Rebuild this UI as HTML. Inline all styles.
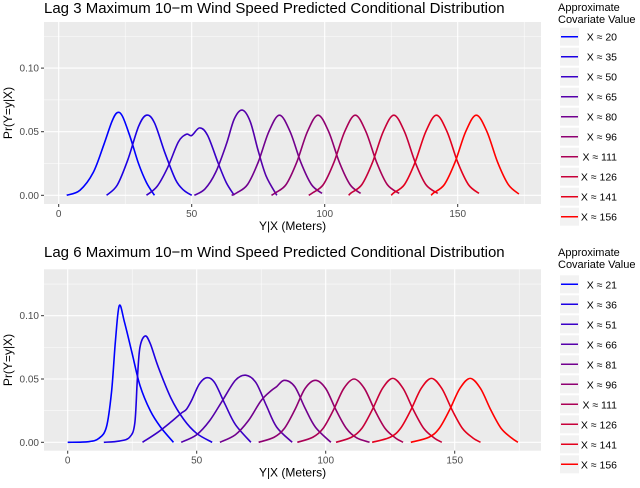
<!DOCTYPE html>
<html><head><meta charset="utf-8">
<style>
body{margin:0;background:#fff;width:640px;height:483px;overflow:hidden;font-family:"Liberation Sans",sans-serif;}
svg text{font-family:"Liberation Sans",sans-serif;}
</style></head>
<body>
<svg id="chart" width="640" height="483" xmlns="http://www.w3.org/2000/svg"></svg>
<script>
// ---- Data: top panel (Lag 3) ----
const lag3Labels = ["X \u2248 20","X \u2248 35","X \u2248 50","X \u2248 65","X \u2248 80","X \u2248 96","X \u2248 111","X \u2248 126","X \u2248 141","X \u2248 156"];
const lag3X = [
 [3,8,13,17,20,22,24,27,30,33,36],
 [18,22,26,30,33,36,40,44,47,50],
 [33,37,41,45,48,50,53,56,60,63,66],
 [51,55,59,63,66,69,72,75,78,82],
 [65,67,71,75,79,83,87,91,95,99],
 [80,81.5,85.5,89.5,93.5,97.5,101.5,105.5,109.5,113.5],
 [94,95.5,99.5,103.5,107.5,111.5,115.5,119.5,123.5,128],
 [109,110,114,118,122,126,130,134,138,142.5],
 [125,126,130,134,138,142,146,150,154,158],
 [140,141,145,149,153,157,161,165,169,173]
];
const lag3Y = [
 [0,0.004,0.018,0.04,0.058,0.065,0.062,0.045,0.025,0.01,0],
 [0,0.008,0.028,0.054,0.063,0.057,0.033,0.012,0.004,0],
 [0,0.007,0.022,0.042,0.048,0.047,0.053,0.047,0.025,0.01,0],
 [0,0.005,0.018,0.04,0.06,0.067,0.058,0.035,0.015,0],
 [0,0.002,0.0085,0.026,0.05,0.063,0.05,0.026,0.0085,0.0015],
 [0,0.002,0.0085,0.026,0.05,0.063,0.05,0.026,0.0085,0.0015],
 [0,0.002,0.0085,0.026,0.05,0.063,0.05,0.026,0.0085,0.0015],
 [0,0.002,0.0085,0.026,0.05,0.063,0.05,0.026,0.0085,0.0015],
 [0,0.002,0.0085,0.026,0.05,0.063,0.05,0.026,0.0085,0.0015],
 [0,0.002,0.0085,0.026,0.05,0.063,0.05,0.026,0.0085,0.001]
];
// ---- Data: bottom panel (Lag 6) ----
const lag6Labels = ["X \u2248 21","X \u2248 36","X \u2248 51","X \u2248 66","X \u2248 81","X \u2248 96","X \u2248 111","X \u2248 126","X \u2248 141","X \u2248 156"];
const lag6X = [
 [0,8,12,15,17,18.5,20,22,25,28,32,36,41],
 [14,20,24,26,27,28,30,32,35,40,45,50,56],
 [29,35,40,44,46,48,51,54,57,61,65,71],
 [44,50,55,60,65,69,73,77,81,87],
 [59,65,70,75,79,81,84,88,92,96,102],
 [74,80,84,88,92,96,100,104,108,112,117],
 [89,95,99,103,107,111,115,119,123,127,130],
 [104,110,114,118,122,126,130,134,138,142,145],
 [118,125,129,133,137,141,145,149,153,157,160],
 [133,140,144,148,152,156,160,164,168,172,174.5]
];
const lag6Y = [
 [0,0.0005,0.003,0.012,0.04,0.08,0.108,0.095,0.07,0.045,0.025,0.012,0],
 [0,0.001,0.004,0.015,0.05,0.075,0.084,0.078,0.06,0.035,0.018,0.007,0],
 [0,0.008,0.016,0.023,0.026,0.033,0.046,0.051,0.047,0.03,0.014,0],
 [0,0.006,0.017,0.033,0.049,0.053,0.047,0.029,0.012,0],
 [0,0.006,0.017,0.033,0.041,0.044,0.049,0.044,0.027,0.012,0],
 [0,0.004,0.011,0.0255,0.0425,0.049,0.0425,0.0255,0.011,0.0035,0],
 [0,0.004,0.011,0.0255,0.0425,0.050,0.0425,0.0255,0.011,0.0035,0],
 [0,0.004,0.011,0.0255,0.0425,0.0505,0.0425,0.0255,0.011,0.0035,0],
 [0,0.004,0.011,0.0255,0.0425,0.0505,0.0425,0.0255,0.011,0.0035,0],
 [0,0.004,0.011,0.0255,0.0425,0.0505,0.0425,0.0255,0.011,0.0035,0]
];
const xTicks = [0,50,100,150];
const xTickLabels = ["0","50","100","150"];
const yTicks = [0,0.05,0.10];
const yTickLabels = ["0.00","0.05","0.10"];

const NS="http://www.w3.org/2000/svg";
const svg=document.getElementById('chart');
function mk(tag,attrs,parent){const e=document.createElementNS(NS,tag);for(const k in attrs)e.setAttribute(k,attrs[k]);(parent||svg).appendChild(e);return e;}
function color(i){const t=i/9;return `rgb(${Math.round(255*t)},0,${Math.round(255*(1-t))})`;}
function smoothPath(pts){
  let d=`M${pts[0][0]},${pts[0][1]}`;
  for(let i=0;i<pts.length-1;i++){
    const p0=pts[Math.max(0,i-1)],p1=pts[i],p2=pts[i+1],p3=pts[Math.min(pts.length-1,i+2)];
    const c1=[p1[0]+(p2[0]-p0[0])/6,p1[1]+(p2[1]-p0[1])/6];
    const c2=[p2[0]-(p3[0]-p1[0])/6,p2[1]-(p3[1]-p1[1])/6];
    d+=` C${c1[0]},${c1[1]} ${c2[0]},${c2[1]} ${p2[0]},${p2[1]}`;
  }
  return d;
}
function panel(cfg){
  const g=mk('g',{});
  
  
  const L=44,R=541,T=cfg.top,B=cfg.bottom;
  const sx=v=>cfg.x0+v*cfg.kx;
  const sy=v=>cfg.y0-v*cfg.ky;
  const t=mk('text',{x:44,y:cfg.titleY,'font-size':15,fill:'#000'},g);t.textContent=cfg.title;
  
  const bg=mk('rect',{x:L,y:T,width:R-L,height:B-T,fill:'#EBEBEB'},g);
  
  [25,75,125,175].forEach(v=>{const x=sx(v);if(x<R)mk('line',{x1:x,x2:x,y1:T,y2:B,stroke:'#fff','stroke-width':0.5},g);});
  [0.025,0.075,0.125].forEach(v=>{const y=sy(v);if(y>T)mk('line',{x1:L,x2:R,y1:y,y2:y,stroke:'#fff','stroke-width':0.5},g);});
  xTicks.forEach((v,i)=>{const x=sx(v);
    mk('line',{x1:x,x2:x,y1:T,y2:B,stroke:'#fff','stroke-width':1.1},g);
    mk('line',{x1:x,x2:x,y1:B,y2:B+3,stroke:'#333','stroke-width':1},g);
    const tx=mk('text',{x:x,y:B+13,'font-size':10,fill:'#4d4d4d','text-anchor':'middle'},g);tx.textContent=xTickLabels[i];
    });
  yTicks.forEach((v,i)=>{const y=sy(v);
    mk('line',{x1:L,x2:R,y1:y,y2:y,stroke:'#fff','stroke-width':1.1},g);
    mk('line',{x1:L-3,x2:L,y1:y,y2:y,stroke:'#333','stroke-width':1},g);
    const ty=mk('text',{x:L-5,y:y+3.5,'font-size':10,fill:'#4d4d4d','text-anchor':'end'},g);ty.textContent=yTickLabels[i];
    });
  const xl=mk('text',{x:(L+R)/2,y:B+26,'font-size':12,fill:'#000','text-anchor':'middle'},g);xl.textContent='Y|X (Meters)';
  
  const yc=(T+B)/2;
  const yl=mk('text',{x:12,y:yc,'font-size':12,fill:'#000','text-anchor':'middle',transform:`rotate(-90 12 ${yc})`},g);yl.textContent='Pr(Y=y|X)';
  
  const clip='clip'+cfg.name;
  const cp=mk('clipPath',{id:clip},g);mk('rect',{x:L,y:T,width:R-L,height:B-T},cp);
  cfg.xs.forEach((xa,i)=>{
    const pts=xa.map((v,j)=>[sx(v),sy(cfg.ys[i][j])]);
    const p=mk('path',{d:smoothPath(pts),fill:'none',stroke:color(i),'stroke-width':1.6,'clip-path':`url(#${clip})`},g);
    
  });
  const lt1=mk('text',{x:558,y:cfg.legY,'font-size':11,fill:'#000'},g);lt1.textContent='Approximate';
  
  const lt2=mk('text',{x:558,y:cfg.legY+12,'font-size':11,fill:'#000'},g);lt2.textContent='Covariate Value';
  
  cfg.labels.forEach((lab,i)=>{
    const cy=cfg.keyY+i*20;
    const kg=mk('g',{},g);
    
    mk('rect',{x:560,y:cy-9,width:19,height:18,fill:'#F2F2F2'},kg);
    mk('line',{x1:561,x2:578,y1:cy,y2:cy,stroke:color(i),'stroke-width':1.5},kg);
    const tt=mk('text',{x:617,y:cy+4,'font-size':10.5,fill:'#000','text-anchor':'end'},kg);tt.textContent=lab;
  });
}
panel({name:'lag3-panel',title:'Lag 3 Maximum 10\u2212m Wind Speed Predicted Conditional Distribution',titleY:13,top:22,bottom:204,
  x0:58.7,kx:2.66,y0:195.3,ky:1272,xs:lag3X,ys:lag3Y,labels:lag3Labels,legY:11,keyY:36.7});
panel({name:'lag6-panel',title:'Lag 6 Maximum 10\u2212m Wind Speed Predicted Conditional Distribution',titleY:257,top:269.3,bottom:450.7,
  x0:67.7,kx:2.58,y0:442.3,ky:1266,xs:lag6X,ys:lag6Y,labels:lag6Labels,legY:256,keyY:284.3});
</script>
</body></html>
